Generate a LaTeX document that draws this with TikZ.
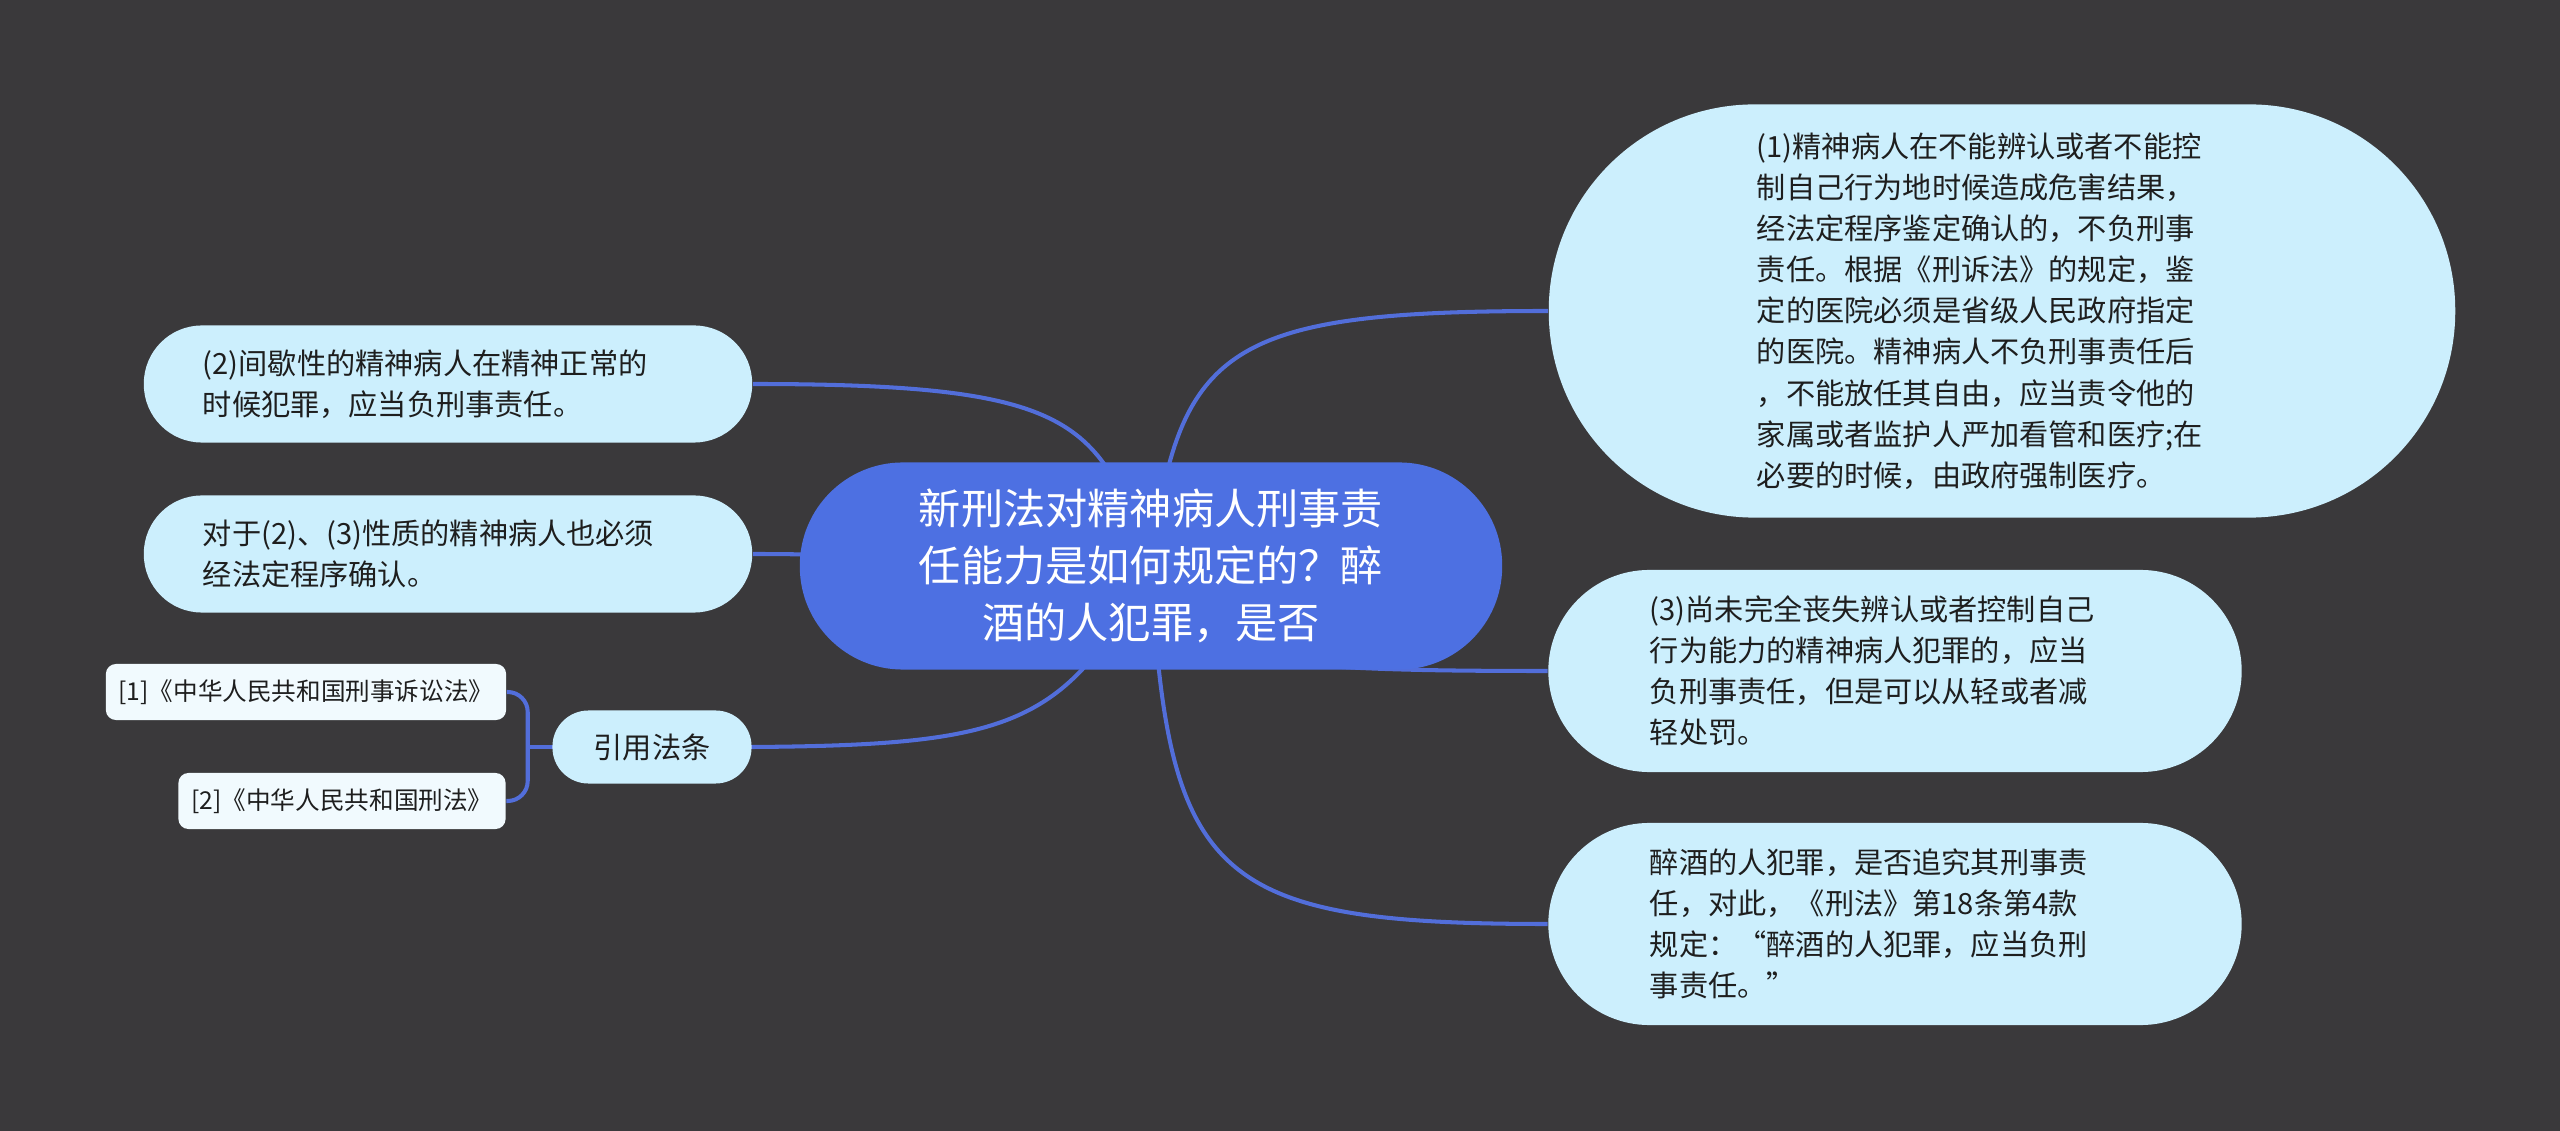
\documentclass[tikz,border=0pt]{standalone}
\usepackage{fontspec}
\setmainfont{Noto Sans CJK SC}
\usetikzlibrary{backgrounds}

\definecolor{bgdark}{RGB}{58,57,59}
\definecolor{rootblue}{RGB}{77,112,226}
\definecolor{linkblue}{RGB}{82,110,218}
\definecolor{bubblefill}{RGB}{204,239,253}
\definecolor{leaffill}{RGB}{241,250,254}
\definecolor{ink}{RGB}{30,30,30}

\tikzset{
  bubble/.style={fill=bubblefill, text=ink, align=left, inner sep=0pt,
    font=\fontsize{8.3pt}{11.7pt}\selectfont},
  leaf/.style={fill=leaffill, text=ink, inner sep=0pt, rounded corners=0.1cm,
    minimum height=0.56cm, font=\fontsize{7pt}{9pt}\selectfont},
  link/.style={draw=linkblue, line width=1.15pt}
}

\begin{document}
\begin{tikzpicture}[x=0.01cm, y=-0.01cm]

% Central topic
\node[fill=rootblue,
    text=white,
    rounded corners=1.03cm,
    minimum width=7.02cm,
    minimum height=2.07cm,
    text width=5cm, align=center,
    font=\fontsize{12pt}{16.3pt}\selectfont
] (root) at (1151,566) {新刑法对精神病人刑事责\\任能力是如何规定的？醉\\酒的人犯罪，是否};

% Right branches
\node[bubble,
    rounded corners=2.06cm,
    minimum width=9.06cm,
    minimum height=4.13cm,
    text width=4.9cm
] (right1) at (2002,311) {(1)精神病人在不能辨认或者不能控\\制自己行为地时候造成危害结果，\\经法定程序鉴定确认的，不负刑事\\责任。根据《刑诉法》的规定，鉴\\定的医院必须是省级人民政府指定\\的医院。精神病人不负刑事责任后\\，不能放任其自由，应当责令他的\\家属或者监护人严加看管和医疗;在\\必要的时候，由政府强制医疗。};

\node[bubble,
    rounded corners=1.01cm,
    minimum width=6.93cm,
    minimum height=2.02cm,
    text width=4.9cm
] (right2) at (1895,671) {(3)尚未完全丧失辨认或者控制自己\\行为能力的精神病人犯罪的，应当\\负刑事责任，但是可以从轻或者减\\轻处罚。};

\node[bubble,
    rounded corners=1.01cm,
    minimum width=6.93cm,
    minimum height=2.02cm,
    text width=4.9cm
] (right3) at (1895,924) {醉酒的人犯罪，是否追究其刑事责\\任，对此，《刑法》第18条第4款\\规定：“醉酒的人犯罪，应当负刑\\事责任。”};

% Left branches
\node[bubble,
    rounded corners=0.58cm,
    minimum width=6.08cm,
    minimum height=1.17cm,
    text width=4.9cm
] (left1) at (448,384) {(2)间歇性的精神病人在精神正常的\\时候犯罪，应当负刑事责任。};

\node[bubble,
    rounded corners=0.58cm,
    minimum width=6.08cm,
    minimum height=1.17cm,
    text width=4.9cm
] (left2) at (448,554) {对于(2)、(3)性质的精神病人也必须\\经法定程序确认。};

\node[bubble,
    rounded corners=0.36cm,
    minimum width=1.99cm,
    minimum height=0.73cm
] (cite) at (652,747) {引用法条};

% Cited laws
\node[leaf, minimum width=4cm] (ref1) at (306,692) {[1]《中华人民共和国刑事诉讼法》};
\node[leaf, minimum width=3.27cm] (ref2) at (342,801) {[2]《中华人民共和国刑法》};

% Links
\begin{pgfonlayer}{background}
\fill[bgdark] (0,0) rectangle (2560,1131);
\draw[link] (root.center) to[out=83, in=180, out looseness=1.2, in looseness=1.75] (right1.west);
\draw[link] (root.center) to[out=-75, in=180, out looseness=0.6, in looseness=2] (right2.west);
\draw[link] (root.center) to[out=-87, in=180, out looseness=1.5, in looseness=1.6] (right3.west);
\draw[link] (root.center) to[out=110, in=0, out looseness=0.9, in looseness=1.9] (left1.east);
\draw[link] (root.center) to[out=180, in=0] (left2.east);
\draw[link] (root.center) to[out=-118, in=0, out looseness=0.9, in looseness=1.8] (cite.west);
\draw[link] (cite.west) -- ([xshift=-0.24cm]cite.west);
\draw[link, rounded corners=0.2cm] (ref1.east) -| ([xshift=-0.24cm]cite.west) |- (ref2.east);
\end{pgfonlayer}

\end{tikzpicture}
\end{document}
